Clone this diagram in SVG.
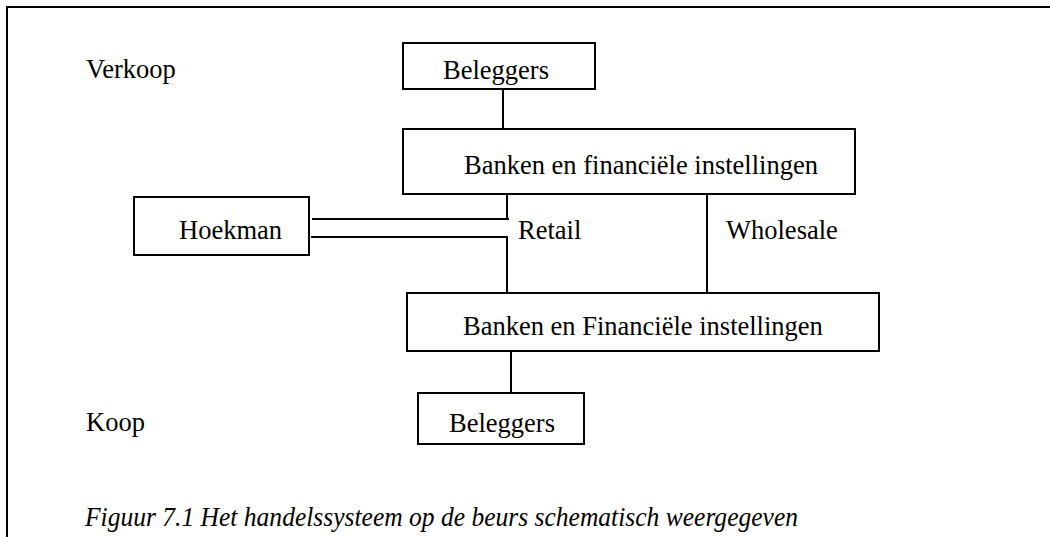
<svg xmlns="http://www.w3.org/2000/svg" width="1050" height="537" viewBox="0 0 1050 537">
<style>
.box{fill:#fff;stroke:#000;stroke-width:2}
.ln{fill:none;stroke:#000;stroke-width:2}
.t{font-family:"Liberation Serif","Times New Roman",serif;font-size:26.5px;fill:#000}
.c{font-style:italic}
</style>
<rect width="1050" height="537" fill="#fff"/>
<g id="frame"><path class="ln" d="M7,537 V7 H1050" stroke-width="2.2"/></g>
<g id="connectors">
<path class="ln" d="M503,89 V129"/>
<path class="ln" d="M507,194 V219 M312,219 H509"/>
<path class="ln" d="M311,237 H507 V298"/>
<path class="ln" d="M707,194 V293"/>
<path class="ln" d="M511,352 V393"/>
</g>
<g id="label-verkoop"><text class="t" x="86" y="78">Verkoop</text></g>
<g id="label-koop"><text class="t" x="86" y="431">Koop</text></g>
<g id="node-beleggers-top"><rect class="box" x="403" y="43" width="192" height="46"/><text class="t" x="443" y="79">Beleggers</text></g>
<g id="node-banken-top"><rect class="box" x="403" y="129" width="452" height="65"/><text class="t" x="464" y="174">Banken en financiële instellingen</text></g>
<g id="node-hoekman"><rect class="box" x="134" y="197" width="175" height="58"/><text class="t" x="179" y="239">Hoekman</text></g>
<g id="label-retail"><text class="t" x="518" y="239">Retail</text></g>
<g id="label-wholesale"><text class="t" x="726" y="239">Wholesale</text></g>
<g id="node-banken-bottom"><rect class="box" x="407" y="293" width="472" height="58"/><text class="t" x="463" y="335">Banken en Financiële instellingen</text></g>
<g id="node-beleggers-bottom"><rect class="box" x="418" y="393" width="166" height="51"/><text class="t" x="449" y="432">Beleggers</text></g>
<g id="caption"><text class="t c" x="85" y="526" textLength="713" lengthAdjust="spacingAndGlyphs">Figuur 7.1 Het handelssysteem op de beurs schematisch weergegeven</text></g>
</svg>
